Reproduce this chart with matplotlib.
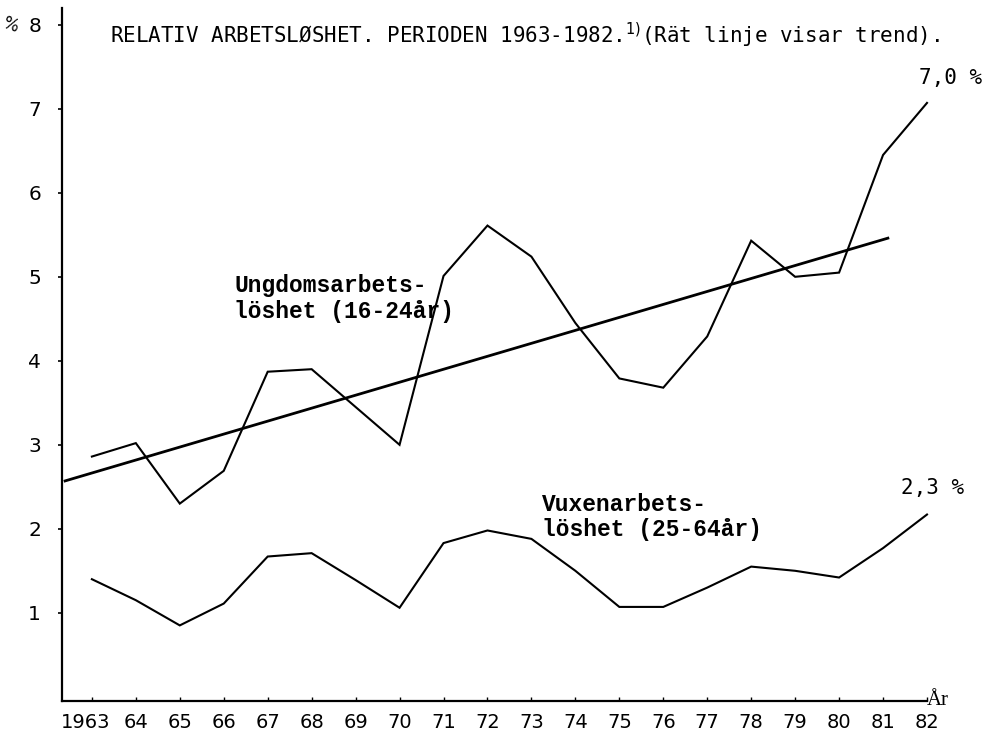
import matplotlib
matplotlib.use("Agg")
import matplotlib.pyplot as plt
from matplotlib.transforms import ScaledTranslation

years = list(range(1963, 1983))
youth = [2.86, 3.02, 2.30, 2.69, 3.87, 3.90, 3.45, 3.00, 5.01, 5.61,
         5.24, 4.45, 3.79, 3.68, 4.29, 5.43, 5.00, 5.05, 6.45, 7.07]
adult = [1.40, 1.15, 0.85, 1.11, 1.67, 1.71, 1.39, 1.06, 1.83, 1.98,
         1.88, 1.50, 1.07, 1.07, 1.30, 1.55, 1.50, 1.42, 1.77, 2.17]
trend_years = [1962.39, 1981.11]
trend_values = [2.57, 5.46]
xtick_labels = ["1963", "64", "65", "66", "67", "68", "69", "70", "71", "72",
                "73", "74", "75", "76", "77", "78", "79", "80", "81", "82"]
yticks = [1, 2, 3, 4, 5, 6, 7, 8]

fig = plt.figure(figsize=(9.95, 7.31), dpi=100)
ax = fig.add_axes([62/995, 1-701/731, (927-62)/995, (701-8)/731])
ax.set_xlim(1962.32, 1981.9)
ax.set_ylim(-0.05, 8.2)

ax.plot(years, youth, color="black", lw=1.5, clip_on=False, solid_joinstyle="miter")
ax.plot(years, adult, color="black", lw=1.5, clip_on=False, solid_joinstyle="miter")
ax.plot(trend_years, trend_values, color="black", lw=2.0, clip_on=False)

for s in ["top", "right"]:
    ax.spines[s].set_visible(False)
ax.spines["left"].set_linewidth(1.6)
ax.spines["bottom"].set_linewidth(1.6)

ax.set_yticks(yticks)
ax.set_yticklabels([str(v) for v in yticks], fontsize=14.5, family="DejaVu Sans")
ax.tick_params(axis="y", length=3, width=1.2, pad=12)
ax.set_xticks(years)
ax.set_xticklabels(xtick_labels, fontsize=14, family="DejaVu Sans")
ax.tick_params(axis="x", length=3, width=1.0, direction="in", pad=9)
first = ax.get_xticklabels()[0]
first.set_transform(first.get_transform() + ScaledTranslation(-6/100, 0, fig.dpi_scale_trans))

fig.text(10/995, 1-25/731, "%", fontsize=12, ha="center", va="center",
         family="DejaVu Sans", rotation=-20)

fig.text(110/995, 1-35/731,
         "RELATIV ARBETSLØSHET. PERIODEN 1963-1982.$^{1)}$(Rät linje visar trend).",
         fontsize=15, family="DejaVu Sans Mono", ha="left", va="center")

ax.text(1966.24, 4.74, "Ungdomsarbets-\nlöshet (16-24år)", fontsize=16.5,
        family="Liberation Mono", weight="bold", ha="left", va="center",
        linespacing=1.15)
ax.text(1973.25, 2.14, "Vuxenarbets-\nlöshet (25-64år)", fontsize=16.5,
        family="Liberation Mono", weight="bold", ha="left", va="center",
        linespacing=1.15)

ax.text(1981.81, 7.37, "7,0 %", fontsize=15, family="DejaVu Sans Mono",
        ha="left", va="center", clip_on=False)
ax.text(1981.4, 2.49, "2,3 %", fontsize=15, family="DejaVu Sans Mono",
        ha="left", va="center", clip_on=False)
ax.text(1982.0, -0.04, "År", fontsize=15, family="Liberation Serif",
        ha="left", va="center", clip_on=False)

fig.savefig("out.png", dpi=100)
